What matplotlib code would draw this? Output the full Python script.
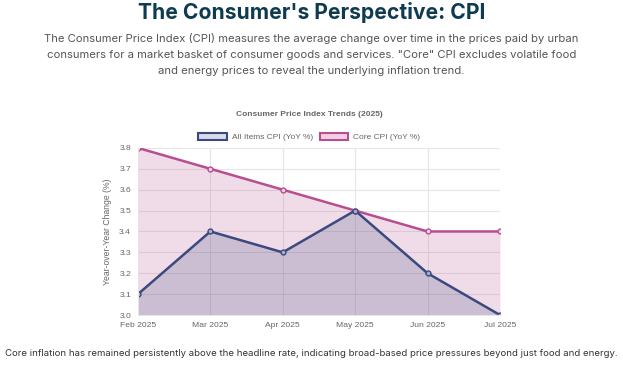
import matplotlib.pyplot as plt
from matplotlib.patches import Patch

months = ['Feb 2025', 'Mar 2025', 'Apr 2025', 'May 2025', 'Jun 2025', 'Jul 2025']
all_items = [3.1, 3.4, 3.3, 3.5, 3.2, 3.0]
core = [3.8, 3.7, 3.6, 3.5, 3.4, 3.4]

navy = '#3b4a7e'
pink = '#b84e8f'
grid_c = '#e6e6e6'
text_c = '#666666'
chart_font = ['Liberation Sans', 'DejaVu Sans']

plt.rcParams['font.family'] = ['Inter', 'DejaVu Sans']

fig = plt.figure(figsize=(6.23, 3.68), dpi=100)
fig.text(0.5, 0.965, "The Consumer's Perspective: CPI", ha='center', va='center',
         fontsize=15.2, fontweight='bold', color='#0e3b50')
sub = ('The Consumer Price Index (CPI) measures the average change over time in the prices paid by urban\n'
       'consumers for a market basket of consumer goods and services. "Core" CPI excludes volatile food\n'
       'and energy prices to reveal the underlying inflation trend.')
fig.text(0.5, 0.852, sub, ha='center', va='center', fontsize=8.1, color='#555555',
         linespacing=1.75)
fig.text(0.5, 0.04, 'Core inflation has remained persistently above the headline rate, indicating '
         'broad-based price pressures beyond just food and energy.', ha='center', va='center',
         fontsize=6.9, color='#333333')

ax = fig.add_axes([0.2215, 0.144, 0.581, 0.454])
x = list(range(len(months)))
ax.fill_between(x, core, 3.0, color=pink, alpha=0.2, lw=0)
ax.fill_between(x, all_items, 3.0, color=navy, alpha=0.2, lw=0)
ax.plot(x, core, color=pink, lw=1.8, marker='o', ms=3.5, mfc='#f0d6e6', mec=pink, mew=1)
ax.plot(x, all_items, color=navy, lw=1.8, marker='o', ms=3.5, mfc='#aab0cc', mec=navy, mew=1)

ax.set_xlim(0, len(months) - 1)
ax.set_ylim(3.0, 3.8)
ax.set_yticks([3.0 + 0.1 * i for i in range(9)])
ax.set_yticklabels(['%.1f' % (3.0 + 0.1 * i) for i in range(9)], family=chart_font)
ax.set_xticks(x)
ax.set_xticklabels(months, family=chart_font)
ax.grid(True, color=grid_c, lw=0.8)
ax.set_axisbelow(True)
for s in ax.spines.values():
    s.set_visible(False)
ax.spines['left'].set_visible(True)
ax.spines['bottom'].set_visible(True)
ax.spines['left'].set_color(grid_c)
ax.spines['bottom'].set_color(grid_c)
ax.tick_params(colors=text_c, labelsize=6.1, length=0, pad=5)
ax.set_ylabel('Year-over-Year Change (%)', fontsize=6.2, color=text_c, labelpad=5,
              family=chart_font)

ax.set_title('Consumer Price Index Trends (2025)', fontsize=6.0, fontweight='bold',
             color=text_c, pad=23, family=chart_font, x=0.474)
handles = [Patch(facecolor='#d8dbe8', edgecolor=navy, lw=1.5, label='All Items CPI (YoY %)'),
           Patch(facecolor='#f0d0e2', edgecolor=pink, lw=1.5, label='Core CPI (YoY %)')]
leg = ax.legend(handles=handles, loc='lower center', bbox_to_anchor=(0.473, 1.0), ncol=2,
                frameon=False, prop={'family': chart_font, 'size': 6.0}, handlelength=3.4,
                handleheight=1.0, columnspacing=0.8, handletextpad=0.6, borderaxespad=0.4)
for t in leg.get_texts():
    t.set_color(text_c)

fig.savefig('out.png', dpi=100)
